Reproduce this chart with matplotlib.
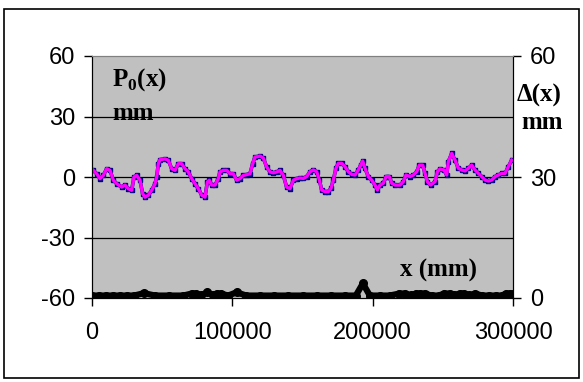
import matplotlib
matplotlib.use("Agg")
import matplotlib.pyplot as plt
from matplotlib.patches import Rectangle

plt.rcParams['font.family'] = ['Liberation Sans', 'DejaVu Sans']
plt.rcParams['axes.unicode_minus'] = False
plt.rcParams['mathtext.fontset'] = 'custom'
plt.rcParams['mathtext.rm'] = 'Liberation Serif:bold'
plt.rcParams['mathtext.bf'] = 'Liberation Serif:bold'

# P0(x) profile (left axis, mm)
p_x = [950, 3325, 5700, 8075, 10450, 12825, 15200, 17576, 21138, 23513, 25889, 28264,
       29927, 31827, 34202, 36103, 37765, 40141, 42516, 44891, 46079, 47267, 48454,
       52017, 54393, 56768, 59143, 61518, 63894, 66269, 68644, 71020, 73395, 75770,
       78146, 80521, 82184, 83609, 85272, 87647, 90022, 91210, 93586, 95961, 98336,
       100712, 103087, 105462, 107838, 110213, 112588, 114489, 116151, 119714, 122090,
       124465, 126840, 129216, 131591, 133966, 136342, 138717, 141092, 143468, 145843,
       148218, 150596, 152972, 155347, 157722, 160098, 161998, 163661, 166036, 168411,
       170312, 171974, 173874, 175537, 177912, 180288, 182663, 185038, 187414, 189789,
       191452, 192877, 194540, 196915, 199290, 201666, 203329, 205229, 207604, 209504,
       211880, 213543, 215918, 219480, 221856, 223756, 226607, 228982, 231358, 233258,
       235633, 237296, 238959, 241334, 244422, 246085, 247985, 250836, 252736, 253924,
       256299, 258675, 261050, 263425, 265801, 268176, 270551, 272927, 275302, 277677,
       280053, 282428, 284803, 287179, 289554, 291929, 294305, 296680, 299055]
p_v = [3.3, 1.6, -0.8, 0.8, 4.1, 3.3, -1.6, -3.3, -5.0, -4.0, -5.8, -6.6,
       0.0, 0.8, -1.6, -8.3, -10.0, -9.0, -6.6, -3.3, 0.0, 6.6, 8.6,
       9.0, 8.3, 4.1, 3.3, 6.6, 6.6, 4.1, 2.5, -0.8, -3.3, -5.8,
       -9.0, -10.0, -2.5, -1.6, -4.0, -4.0, -0.8, 2.5, 3.3, 3.3, 1.6,
       1.6, -1.6, -0.8, 0.8, 1.2, 1.6, 6.6, 9.9, 10.4, 9.4,
       5.0, 2.5, 2.1, 2.5, 3.3, 0.8, -5.0, -5.8, -1.6, -0.8,
       -0.5, -0.7, 0.2, 2.6, 3.5, 2.6, -1.5, -6.4, -7.3, -7.3,
       -5.6, -1.5, 4.3, 6.8, 6.8, 5.1, 2.6, 1.3, 1.0, 3.5,
       5.9, 7.9, 4.3, 0.2, -1.5, -4.0, -6.4, -4.0, -3.1, 0.2,
       0.2, -3.1, -4.0, -4.0, -2.3, 1.0, 0.2, 1.0, 2.6, 5.9,
       5.9, 1.8, -2.3, -4.0, -2.3, 2.6, 4.0, 3.5, 1.0, 7.6,
       11.7, 8.4, 4.3, 3.5, 3.0, 4.3, 5.9, 3.5, 1.8, 0.2,
       -1.5, -2.0, -1.5, 0.2, 1.0, 1.8, 1.8, 5.1, 8.4]

# Delta(x) (right axis, mm)
d_x = [0, 5000, 10000, 15000, 20000, 25000, 30000, 37000, 45000, 55000, 65000, 71000,
       74000, 78000, 82000, 86000, 89000, 92000, 97000, 103000, 110000, 120000, 130000,
       140000, 150000, 160000, 170000, 180000, 188000, 193000, 198000, 205000, 212000,
       219000, 223000, 227000, 231000, 234000, 237000, 242000, 247000, 251000, 255000,
       258000, 262000, 265000, 269000, 273000, 278000, 283000, 288000, 292000, 295000,
       298000, 300000]
d_v = [0.6, 0.6, 0.6, 0.6, 0.6, 0.6, 0.6, 1.2, 0.6, 0.6, 0.6, 1.1,
       1.1, 0.7, 1.4, 0.8, 1.1, 1.1, 0.6, 1.4, 0.6, 0.6, 0.6,
       0.6, 0.6, 0.6, 0.6, 0.6, 0.6, 3.6, 0.6, 0.6, 0.6,
       1.1, 1.1, 0.7, 1.1, 1.1, 1.1, 0.6, 0.6, 1.1, 1.1,
       0.7, 1.1, 1.1, 0.7, 1.1, 0.6, 0.6, 0.6, 0.6, 1.1,
       1.1, 0.9]

left_ticks = [-60, -30, 0, 30, 60]
right_ticks = [0, 30, 60]
x_ticks = [0, 100000, 200000, 300000]

fig = plt.figure(figsize=(5.83, 3.82), dpi=100)
fig.patches.append(Rectangle((3.5/583, 4.5/382), 575/583, 369/382, transform=fig.transFigure,
                             fill=False, edgecolor='black', linewidth=1.2))

ax = fig.add_axes([92/583, 1 - 298/382, 421/583, 242/382])
ax.set_facecolor('#C0C0C0')
ax.set_xlim(0, 300000)
ax.set_ylim(-60, 60)
ax.set_yticks(left_ticks)
ax.set_xticks(x_ticks)
ax.set_xticklabels([str(t) for t in x_ticks])
for g in [-30, 0, 30]:
    ax.axhline(g, color='black', linewidth=0.9, zorder=1)

ax.plot(p_x, p_v, color='#000080', linewidth=2.6, marker='s', markersize=2.5, zorder=3)
ax.plot(p_x, p_v, color='#FF00FF', linewidth=2.4, zorder=4)

ax2 = ax.twinx()
ax2.set_ylim(0, 60)
ax2.set_yticks(right_ticks)
ax2.plot(d_x, d_v, color='black', linewidth=4.5, marker='o', markersize=5.5, zorder=5)

for a in (ax, ax2):
    a.tick_params(direction='out', length=6, width=1, labelsize=17, colors='black', pad=6)
ax.tick_params(axis='x', pad=11)
ax.spines['top'].set_color('#808080')
ax2.spines['top'].set_color('#808080')
ax.spines['left'].set_color('black')
ax2.spines['right'].set_color('black')

tfont = dict(fontsize=18, family='Liberation Serif', fontweight='bold', va='center', ha='left')
fig.text(112/583, 1 - 80/382, r'P$_{\mathbf{0}}$(x)', **tfont)
fig.text(112/583, 1 - 113/382, 'mm', **tfont)
fig.text(400/583, 1 - 270/382, 'x (mm)', **tfont)
fig.text(517/583, 1 - 95/382, 'Δ(x)', **tfont)
fig.text(521/583, 1 - 123/382, 'mm', **tfont)

fig.savefig('out.png', dpi=100)
